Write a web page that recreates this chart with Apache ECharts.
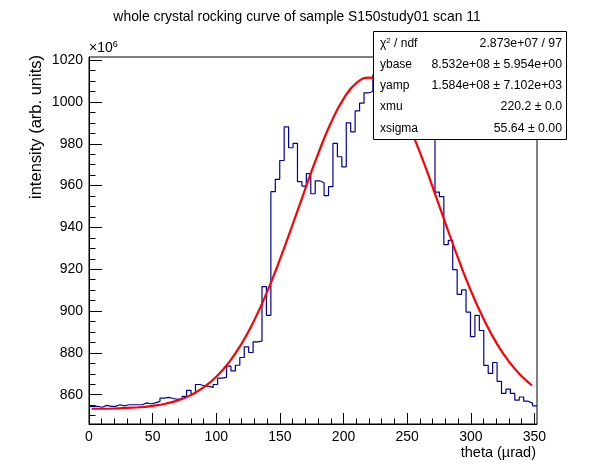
<!DOCTYPE html>
<html>
<head>
<meta charset="utf-8">
<script src="https://cdn.jsdelivr.net/npm/echarts@6/dist/echarts.min.js"></script>
<style>
html, body { margin: 0; padding: 0; background: #fff; }
#chart { width: 596px; height: 472px; }
</style>
</head>
<body>
<div id="chart"></div>
<script>
var titleText = 'whole crystal rocking curve of sample S150study01 scan 11';
var xTitle = 'theta (\u00b5rad)';
var yTitle = 'intensity (arb. units)';

// 101 bins from 0 to 352, values in units of 1e6
var binWidth = 352 / 101;
var intensity = [
  854.4, 854.4, 854.0, 854.9, 854.4, 854.4, 855.2, 854.7, 855.2, 855.2,
  855.2, 855.2, 856.1, 855.7, 856.1, 856.8, 858.4, 858.7, 858.2, 857.8,
  858.2, 859.2, 862.1, 860.5, 864.9, 864.3, 864.0, 863.5, 864.9, 867.9,
  868.3, 873.7, 871.4, 874.1, 877.8, 882.9, 880.2, 885.3, 885.6, 911.7,
  897.9, 957.1, 963.0, 972.0, 988.1, 978.1, 980.2, 961.9, 959.8, 965.7,
  956.1, 962.3, 961.4, 955.2, 959.5, 980.2, 973.8, 969.0, 990.0, 985.7,
  995.7, 999.4, 1004.3, 1005.0, 1013.0, 1012.0, 1013.5, 1011.0, 1010.0, 1008.0,
  1006.0, 1003.0, 1000.0, 997.0, 994.0, 992.0, 989.0, 986.0, 956.9, 954.7,
  931.8, 933.8, 919.8, 908.0, 910.1, 899.5, 887.8, 897.9, 890.7, 874.0,
  870.2, 875.4, 866.4, 860.6, 862.7, 860.6, 857.4, 858.9, 856.9, 856.0,
  854.7
];

// fit curve
var fitX = [2, 10, 20, 30, 40, 50, 60, 70, 80, 90, 100, 110, 120, 130, 140, 150, 160, 170, 180, 190,
            200, 210, 220, 230, 240, 250, 260, 270, 280, 290, 300, 310, 320, 330, 340, 348];
var fitY = [853.3, 853.3, 853.4, 853.7, 854.0, 854.7, 855.7, 857.3, 859.8, 863.5, 868.6, 875.5, 884.5, 895.8,
            909.3, 924.7, 941.4, 958.6, 975.2, 989.9, 1001.5, 1009.0, 1011.6, 1009.2, 1001.9, 990.4, 975.9,
            959.3, 942.1, 925.3, 909.8, 896.3, 884.9, 875.8, 868.8, 864.5];

var xTicks = [0, 50, 100, 150, 200, 250, 300, 350];
var xMinorTicks = [10, 20, 30, 40, 60, 70, 80, 90, 110, 120, 130, 140, 160, 170, 180, 190,
                   210, 220, 230, 240, 260, 270, 280, 290, 310, 320, 330, 340];
var yTicks = [860, 880, 900, 920, 940, 960, 980, 1000, 1020];
var yMinorTicks = [850, 855, 865, 870, 875, 885, 890, 895, 905, 910, 915, 925, 930, 935, 945, 950, 955,
                   965, 970, 975, 985, 990, 995, 1005, 1010, 1015];

var statNames = ['{a|\u03c7}{s|2}{a| / ndf}', 'ybase', 'yamp', 'xmu', 'xsigma'];
var statValues = ['2.873e+07 / 97', '8.532e+08 \u00b1 5.954e+00', '1.584e+08 \u00b1 7.102e+03',
                  '220.2 \u00b1 0.0', '55.64 \u00b1 0.00'];

var font = 'Liberation Sans, Arial, Helvetica, sans-serif';

var histData = [];
for (var i = 0; i < intensity.length; i++) {
  histData.push([i * binWidth, intensity[i]]);
}
histData.push([intensity.length * binWidth, intensity[intensity.length - 1]]);

var fitData = [];
for (var j = 0; j < fitX.length; j++) {
  fitData.push([fitX[j], fitY[j]]);
}

var xMin = 0, xMax = 352;
var yMin = 846, yMax = 1021.5;

var plainLabel = function (v) { return String(v); };

var statItems = [];
statItems.push({
  type: 'rect', z: 100,
  shape: { x: 373.5, y: 31.5, width: 193, height: 108 },
  style: { fill: '#fff', stroke: '#000', lineWidth: 1 }
});
for (var k = 0; k < statNames.length; k++) {
  var rowY = 43.5 + k * 21.2;
  statItems.push({
    type: 'text', z: 101, x: 380, y: rowY,
    style: {
      text: statNames[k], fill: '#000', font: '12px ' + font,
      textVerticalAlign: 'middle', textAlign: 'left',
      rich: {
        a: { fontSize: 12, fontFamily: font, lineHeight: 14 },
        s: { fontSize: 8, fontFamily: font, lineHeight: 14, verticalAlign: 'top', padding: [0, 0, 4, 0] }
      }
    }
  });
  statItems.push({
    type: 'text', z: 101, x: 562, y: rowY,
    style: {
      text: statValues[k], fill: '#000', font: '12.3px ' + font,
      textVerticalAlign: 'middle', textAlign: 'right'
    }
  });
}

var chart = echarts.init(document.getElementById('chart'));
chart.setOption({
  animation: false,
  backgroundColor: '#fff',
  grid: {
    left: 89, right: 59, top: 57, bottom: 48,
    show: true, borderColor: '#000', borderWidth: 1, backgroundColor: 'transparent'
  },
  xAxis: [{
    type: 'value', min: xMin, max: xMax,
    axisLine: { show: true, onZero: false, lineStyle: { color: '#000', width: 1 } },
    axisTick: { show: true, inside: true, length: 11, customValues: xTicks, lineStyle: { color: '#000' } },
    axisLabel: { customValues: xTicks, formatter: plainLabel, color: '#000', fontSize: 14, fontFamily: font, margin: 6 },
    splitLine: { show: false }
  }, {
    type: 'value', min: xMin, max: xMax, position: 'bottom',
    axisLine: { show: false },
    axisTick: { show: true, inside: true, length: 5.5, customValues: xMinorTicks, lineStyle: { color: '#000' } },
    axisLabel: { show: false },
    splitLine: { show: false }
  }],
  yAxis: [{
    type: 'value', min: yMin, max: yMax,
    axisLine: { show: true, onZero: false, lineStyle: { color: '#000', width: 1 } },
    axisTick: { show: true, inside: true, length: 13, customValues: yTicks, lineStyle: { color: '#000' } },
    axisLabel: { customValues: yTicks, formatter: plainLabel, color: '#000', fontSize: 14, fontFamily: font, margin: 6 },
    splitLine: { show: false }
  }, {
    type: 'value', min: yMin, max: yMax, position: 'left',
    axisLine: { show: false },
    axisTick: { show: true, inside: true, length: 6.5, customValues: yMinorTicks, lineStyle: { color: '#000' } },
    axisLabel: { show: false },
    splitLine: { show: false }
  }],
  series: [{
    name: 'hist',
    type: 'line',
    step: 'end',
    data: histData,
    showSymbol: false,
    symbol: 'none',
    lineStyle: { color: '#000099', width: 1.2 },
    z: 2
  }, {
    name: 'fit',
    type: 'line',
    data: fitData,
    smooth: true,
    showSymbol: false,
    symbol: 'none',
    lineStyle: { color: '#ff0000', width: 2.2 },
    z: 3
  }],
  graphic: [{
    type: 'text', x: 297, y: 17,
    style: { text: titleText, fill: '#000', font: '13.9px ' + font, textAlign: 'center', textVerticalAlign: 'middle' }
  }, {
    type: 'text', x: 89, y: 48,
    style: {
      text: '{a|\u00d710}{s|6}', textAlign: 'left', textVerticalAlign: 'middle',
      rich: {
        a: { fontSize: 14, fontFamily: font, fill: '#000', lineHeight: 16 },
        s: { fontSize: 9, fontFamily: font, fill: '#000', lineHeight: 16, verticalAlign: 'top', padding: [0, 0, 6, 0] }
      }
    }
  }, {
    type: 'text', x: 536, y: 453,
    style: { text: xTitle, fill: '#000', font: '14.5px ' + font, textAlign: 'right', textVerticalAlign: 'middle' }
  }, {
    type: 'text', x: 36, y: 55, rotation: Math.PI / 2,
    style: { text: yTitle, fill: '#000', font: '16.5px ' + font, textAlign: 'right', textVerticalAlign: 'middle' }
  }, {
    type: 'group', children: statItems
  }]
});
</script>
</body>
</html>
